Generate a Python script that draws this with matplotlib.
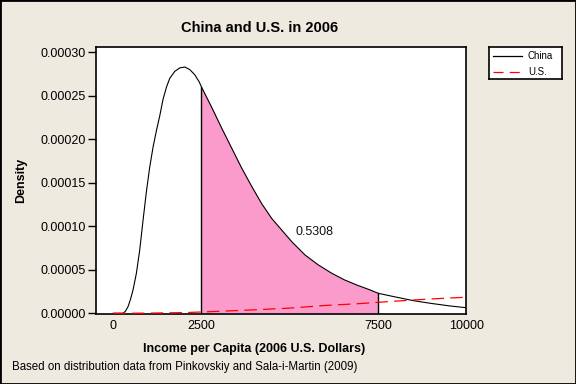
import matplotlib
matplotlib.use("Agg")
import matplotlib.pyplot as plt
import numpy as np
from matplotlib.patches import Rectangle

plt.rcParams['font.family'] = ['Liberation Sans', 'DejaVu Sans']

# China income density
china_x = [0, 278, 350, 420, 490, 562, 657, 752, 846, 941, 1035, 1129, 1225, 1319,
           1412, 1509, 1602, 1744, 1886, 2028, 2170, 2311, 2434, 2500, 2785, 3069,
           3352, 3636, 3919, 4203, 4487, 4770, 5054, 5431, 5809, 6188, 6540, 6897,
           7275, 7500, 8032, 8502, 8976, 9543, 10000]
china_y = [0, 0, 2.5e-6, 7.6e-6, 1.6e-5, 2.68e-5, 4.6e-5, 7.28e-5, 1.07e-4, 1.40e-4,
           1.68e-4, 1.91e-4, 2.10e-4, 2.27e-4, 2.46e-4, 2.60e-4, 2.70e-4, 2.78e-4,
           2.82e-4, 2.83e-4, 2.80e-4, 2.74e-4, 2.66e-4, 2.60e-4, 2.37e-4, 2.13e-4,
           1.90e-4, 1.67e-4, 1.46e-4, 1.26e-4, 1.09e-4, 9.57e-5, 8.23e-5, 6.7e-5,
           5.55e-5, 4.6e-5, 3.85e-5, 3.25e-5, 2.68e-5, 2.3e-5, 1.84e-5, 1.45e-5,
           1.15e-5, 8.4e-6, 6.4e-6]

# U.S. income density
us_x = [0, 1000, 2000, 2500, 3000, 4000, 5000, 6000, 7000, 7500, 8000, 8500, 9000, 10000]
us_y = [0, 2e-7, 8e-7, 1.5e-6, 2.3e-6, 4.0e-6, 6.0e-6, 9.0e-6, 1.12e-5, 1.26e-5,
        1.4e-5, 1.53e-5, 1.65e-5, 1.85e-5]

shade_lo, shade_hi = 2500, 7500
area_label = "0.5308"
xtick_vals = [0, 2500, 7500, 10000]
ytick_vals = [0, 0.00005, 0.0001, 0.00015, 0.0002, 0.00025, 0.0003]

bg = '#EEEAE0'
fig = plt.figure(figsize=(5.76, 3.84), dpi=100, facecolor=bg)
ax = fig.add_axes([95.5/576, 1-314/384, 371/576, 267/384])
ax.set_facecolor('white')

cx = np.array(china_x, float)
cy = np.array(china_y, float)
mask = (cx >= shade_lo) & (cx <= shade_hi)
ax.fill_between(cx[mask], 0, cy[mask], color='#FB9BCB', lw=0, zorder=1)
ax.plot(cx, cy, color='black', lw=0.8, zorder=3)
ax.plot(us_x, us_y, color='#FF0000', lw=0.9, ls=(0, (10, 5)), zorder=4)
for v in (shade_lo, shade_hi):
    ax.plot([v, v], [0, np.interp(v, cx, cy)], color='black', lw=1.0, zorder=3)

ax.text(5686, 9.35e-5, area_label, fontsize=9, ha='center', va='center', color='#111111')

ax.set_xlim(-500, 10000)
ax.set_ylim(-0.8e-6, 0.000306)
ax.set_xticks(xtick_vals)
ax.set_xticklabels([str(v) for v in xtick_vals])
ax.set_yticks(ytick_vals)
ax.set_yticklabels([f"{v:.5f}" for v in ytick_vals])
ax.tick_params(axis='y', length=6, width=1, labelsize=9, pad=1, direction='out')
ax.tick_params(axis='x', length=0, labelsize=9, pad=4)
for s in ax.spines.values():
    s.set_linewidth(1.2)

ax.set_xlabel("Income per Capita (2006 U.S. Dollars)", fontsize=9, fontweight='bold')
ax.xaxis.set_label_coords((254-95.5)/371, -(343-314)/267)
ax.set_ylabel("Density", fontsize=9, fontweight='bold')
ax.yaxis.set_label_coords(-(95.5-27)/371, 0.5)

fig.text(260/576, 1-27.5/384, "China and U.S. in 2006", fontsize=10.5, fontweight='bold',
         ha='center', va='center')
fig.text(12/576, 1-367/384, "Based on distribution data from Pinkovskiy and Sala-i-Martin (2009)",
         fontsize=8.3, ha='left', va='center')

# legend box
lax = fig.add_axes([489/576, 1-79/384, 73/576, 32/384])
lax.set_xlim(0, 73); lax.set_ylim(32, 0)
lax.set_xticks([]); lax.set_yticks([])
lax.set_facecolor('white')
for s in lax.spines.values():
    s.set_linewidth(1.2)
lax.plot([4, 33], [9, 9], color='black', lw=0.9)
lax.plot([4, 33], [25, 25], color='#FF0000', lw=0.9, ls=(0, (8, 5)))
lax.text(39, 9, "China", fontsize=7, va='center', ha='left')
lax.text(39, 25, "U.S.", fontsize=7, va='center', ha='left')

fig.patches.append(Rectangle((0, 0), 1, 1, transform=fig.transFigure, fill=False,
                             edgecolor='black', lw=2, zorder=10))

fig.savefig('out.png', dpi=100, facecolor=bg)
